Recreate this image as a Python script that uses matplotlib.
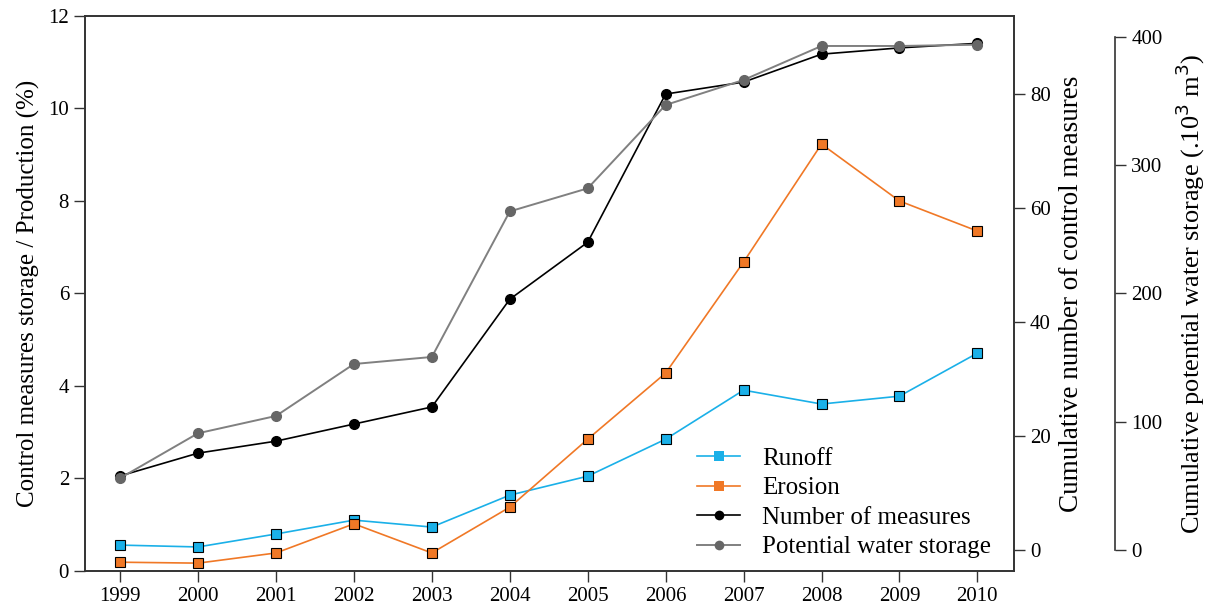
import matplotlib.pyplot as plt
import numpy as np

plt.rcParams['font.family'] = ['Liberation Serif', 'DejaVu Serif']

years = [1999, 2000, 2001, 2002, 2003, 2004, 2005, 2006, 2007, 2008, 2009, 2010]
runoff = [0.56, 0.52, 0.80, 1.10, 0.95, 1.64, 2.05, 2.85, 3.91, 3.61, 3.78, 4.71]
erosion = [0.19, 0.17, 0.39, 1.02, 0.39, 1.38, 2.85, 4.28, 6.68, 9.23, 8.00, 7.35]
n_measures = [13.0, 17.0, 19.1, 22.1, 25.1, 44.0, 54.0, 80.0, 82.1, 87.0, 88.1, 88.9]
water_storage = [56, 91, 104.5, 145, 150.5, 264, 282, 347, 366.5, 393, 393, 394]

fs = 15
fig = plt.figure(figsize=(12.08, 6.05), dpi=100)
ax = fig.add_axes([0.0704, 0.0562, 0.769, 0.9174])
ax2 = ax.twinx()
ax3 = ax.twinx()

l1, = ax.plot(years, runoff, color='#1ab0e8', marker='s', markersize=7,
              markeredgecolor='black', markeredgewidth=0.8, lw=1.2, label='Runoff')
l2, = ax.plot(years, erosion, color='#f07826', marker='s', markersize=7,
              markeredgecolor='black', markeredgewidth=0.8, lw=1.2, label='Erosion')
l3, = ax2.plot(years, n_measures, color='black', marker='o', markersize=7,
               lw=1.2, label='Number of measures')
l4, = ax3.plot(years, water_storage, color='#808080', marker='o', markersize=7,
               markerfacecolor='#666666', markeredgecolor='#666666', lw=1.4,
               label='Potential water storage')

ax.set_xlim(1998.55, 2010.47)
ax.set_ylim(0, 12)
ax.set_xticks(years)
ax.set_yticks(np.arange(0, 13, 2))
ax.set_ylabel('Control measures storage / Production (%)', fontsize=18, labelpad=6)

ax2.set_ylim(-3.68, 93.7)
ax2.set_yticks(np.arange(0, 81, 20))
ax2.set_ylabel('Cumulative number of control measures', fontsize=19.5, labelpad=6)

ax3.set_ylim(-16.4, 416.4)
ax3.set_yticks(np.arange(0, 401, 100))
ax3.spines['right'].set_position(('axes', 1.109))
ax3.spines['right'].set_bounds(0, 400)
ax3.set_ylabel('Cumulative potential water storage (.10$^3$ m$^3$)', fontsize=19,
               labelpad=8)

for a in (ax, ax2, ax3):
    a.tick_params(labelsize=fs, length=8, width=1, direction='out', color='#333333')
    for s in a.spines.values():
        s.set_color('#333333')
        s.set_linewidth(1.2)
ax3.spines['left'].set_visible(False)
ax3.spines['top'].set_visible(False)
ax3.spines['bottom'].set_visible(False)

leg = ax.legend(handles=[l1, l2, l3, l4], loc='lower right', frameon=False, fontsize=18,
                bbox_to_anchor=(1.0, -0.018), handlelength=1.7, labelspacing=0.28,
                handletextpad=0.9)
for h in leg.legend_handles:
    h.set_markeredgewidth(0)

fig.savefig('out.png', dpi=100)
